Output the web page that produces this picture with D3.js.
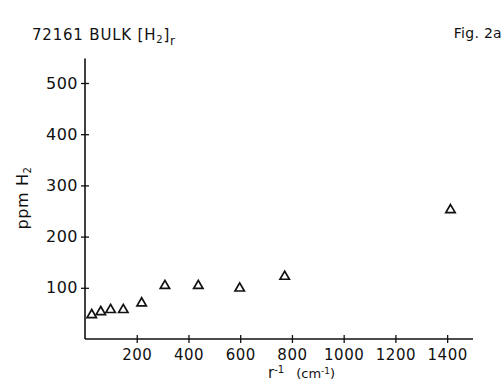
<!DOCTYPE html>
<html><head><meta charset="utf-8">
<script src="https://cdn.jsdelivr.net/npm/d3@7/dist/d3.min.js"></script>
<style>body{margin:0;background:#fff}svg{display:block}text{font-family:"DejaVu Sans",sans-serif;fill:#111}</style>
</head><body><svg id="c" width="504" height="384"></svg>
<script>
const xVals = [26, 61, 99, 148, 219, 309, 438, 598, 772, 1413];
const yVals = [47, 53, 57, 57, 70, 104, 104, 99, 122, 252];
const xTicks = [200, 400, 600, 800, 1000, 1200, 1400];
const yTicks = [100, 200, 300, 400, 500];

const svg = d3.select("#c");
const x = d3.scaleLinear().domain([0, 1500]).range([85, 473]);
const y = d3.scaleLinear().domain([0, 500]).range([339, 83]);

const gx = svg.append("g").attr("transform", `translate(0,${y(0)})`)
  .call(d3.axisBottom(x).tickValues(xTicks).tickFormat(d3.format("d")).tickSize(4).tickPadding(6));
gx.select(".domain").attr("d", `M${x(0)},0H${x(1500)}`).attr("stroke", "#111").attr("stroke-width", 1.6);
gx.selectAll(".tick line").attr("y1", -4).attr("y2", 4).attr("stroke", "#111").attr("stroke-width", 1.3);
gx.selectAll(".tick text").attr("font-size", 15).attr("letter-spacing", 0.5).attr("dy", "0.72em");

const gy = svg.append("g").attr("transform", `translate(${x(0)},0)`)
  .call(d3.axisLeft(y).tickValues(yTicks).tickFormat(d3.format("d")).tickSize(4).tickPadding(3));
gy.select(".domain").attr("d", `M0,${y(0)}V${y(548)}`).attr("stroke", "#111").attr("stroke-width", 1.6);
gy.selectAll(".tick line").attr("x1", -4).attr("x2", 4).attr("stroke", "#111").attr("stroke-width", 1.3);
gy.selectAll(".tick text").attr("font-size", 16).attr("letter-spacing", 0.5);

const pts = xVals.map((v, i) => [v, yVals[i]]);
svg.append("g").selectAll("path").data(pts).join("path")
  .attr("transform", d => `translate(${x(d[0])},${y(d[1])})`)
  .attr("d", d3.symbol(d3.symbolTriangle, 38))
  .attr("fill", "none").attr("stroke", "#111").attr("stroke-width", 1.7);

const t = svg.append("text").attr("x", 32).attr("y", 40).attr("font-size", 15).attr("letter-spacing", 0.8);
t.append("tspan").text("72161 BULK [H");
t.append("tspan").attr("font-size", 10).attr("dy", 3).text("2");
t.append("tspan").attr("dy", -3).text("]");
t.append("tspan").attr("font-size", 12).attr("dy", 5).text("r");

svg.append("text").attr("x", 502).attr("y", 38).attr("text-anchor", "end").attr("font-size", 14).attr("letter-spacing", 0.3).text("Fig. 2a");

const yl = svg.append("text").attr("transform", "translate(28,198) rotate(-90)").attr("text-anchor", "middle").attr("font-size", 16).attr("letter-spacing", 0.6);
yl.append("tspan").text("ppm H");
yl.append("tspan").attr("font-size", 10).attr("dy", 3).text("2");

const xl = svg.append("text").attr("x", 268).attr("y", 378).attr("font-size", 15);
xl.append("tspan").text("r");
xl.append("tspan").attr("font-size", 10).attr("dy", -5).text("-1");
xl.append("tspan").attr("font-size", 13).attr("dy", 5).attr("dx", 12).text("(cm");
xl.append("tspan").attr("font-size", 9).attr("dy", -4).text("-1");
xl.append("tspan").attr("font-size", 13).attr("dy", 4).text(")");
</script></body></html>
